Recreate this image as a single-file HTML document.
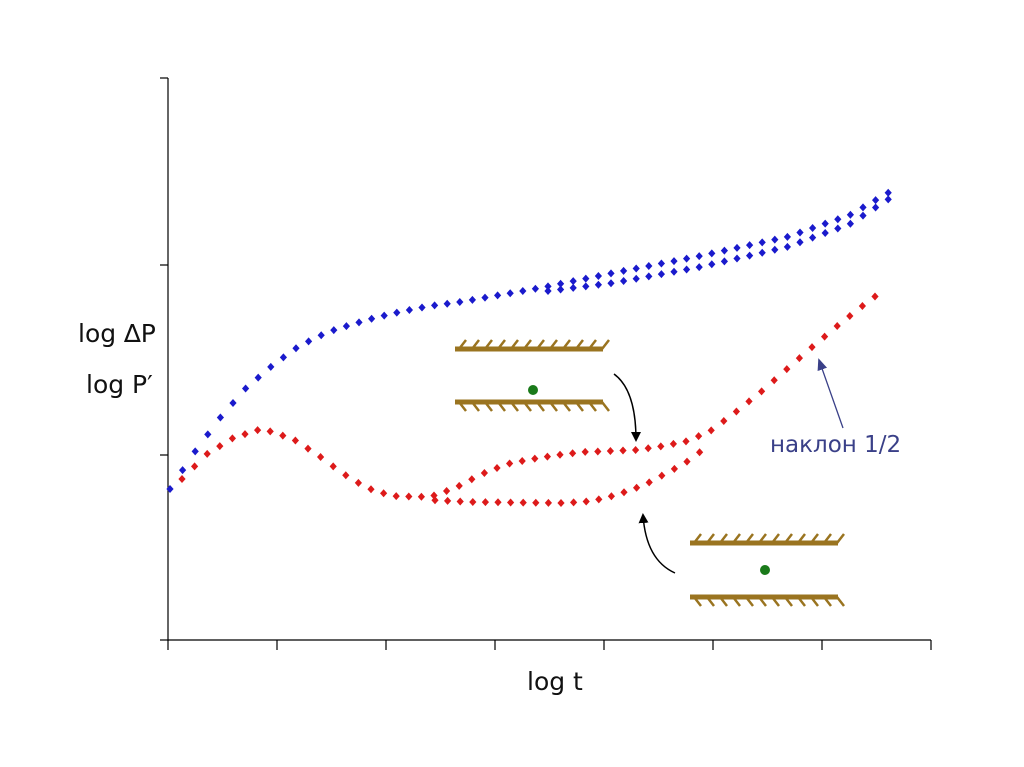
<!DOCTYPE html>
<html><head><meta charset="utf-8"><style>
html,body{margin:0;padding:0;background:#fff;width:1024px;height:767px;overflow:hidden}
svg text{font-family:"DejaVu Sans","Liberation Sans",sans-serif}
</style></head><body>
<svg id="s" width="1024" height="767" xmlns="http://www.w3.org/2000/svg">
<defs>
<marker id="ah" markerWidth="10" markerHeight="10" refX="8" refY="5" orient="auto" markerUnits="userSpaceOnUse"><path d="M0,0 L10,5 L0,10 z" fill="#000"/></marker>
<marker id="ab" markerWidth="12" markerHeight="10" refX="10" refY="5" orient="auto" markerUnits="userSpaceOnUse"><path d="M0,0 L12,5 L0,10 z" fill="#3a4088"/></marker>
</defs>
<g stroke="#000" stroke-width="1.2">
<line x1="168" y1="78" x2="168" y2="641"/>
<line x1="168" y1="640" x2="931" y2="640"/>
<line x1="160" y1="78" x2="168" y2="78"/>
<line x1="160" y1="265" x2="168" y2="265"/>
<line x1="160" y1="455" x2="168" y2="455"/>
<line x1="160" y1="640" x2="168" y2="640"/>
<line x1="168" y1="640" x2="168" y2="650"/>
<line x1="277" y1="640" x2="277" y2="650"/>
<line x1="386" y1="640" x2="386" y2="650"/>
<line x1="495" y1="640" x2="495" y2="650"/>
<line x1="604" y1="640" x2="604" y2="650"/>
<line x1="713" y1="640" x2="713" y2="650"/>
<line x1="822" y1="640" x2="822" y2="650"/>
<line x1="931" y1="640" x2="931" y2="650"/>
</g>
<text x="78" y="342" font-size="25" fill="#111">log ∆P</text>
<text x="86" y="393" font-size="25" fill="#111">log P′</text>
<text x="527" y="690" font-size="25" fill="#111">log t</text>
<text x="770" y="452" font-size="23" fill="#3a4088">наклон 1/2</text>
<line x1="843" y1="428" x2="819" y2="360" stroke="#3a4088" stroke-width="1.3" marker-end="url(#ab)"/>
<path d="M614,374 Q636,390 636,440" fill="none" stroke="#000" stroke-width="1.5" marker-end="url(#ah)"/>
<path d="M675,573 Q646,560 643,515" fill="none" stroke="#000" stroke-width="1.5" marker-end="url(#ah)"/>
<g id="pts"></g>
<g id="walls" stroke="#9a7420" fill="none"></g>
<circle cx="533" cy="390" r="5" fill="#1a7a1a"/>
<circle cx="765" cy="570" r="5" fill="#1a7a1a"/>
</svg>
<script>
var ns="http://www.w3.org/2000/svg",g=document.getElementById("pts"),w=document.getElementById("walls");
function interp(k,x){for(var i=0;i<k.length-1;i++){if(x>=k[i][0]&&x<=k[i+1][0]){var t=(x-k[i][0])/(k[i+1][0]-k[i][0]);return k[i][1]+t*(k[i+1][1]-k[i][1]);}}return k[k.length-1][1];}
function series(k,x0,x1,col){for(var x=x0;x<=x1+0.1;x+=12.6){var y=interp(k,x),p=document.createElementNS(ns,"path");p.setAttribute("d","M"+x+","+(y-4)+"L"+(x+3.6)+","+y+"L"+x+","+(y+4)+"L"+(x-3.6)+","+y+"Z");p.setAttribute("fill",col);g.appendChild(p);}}
var blue=[[170,489],[194,453],[220,418],[246,388],[273,365],[299,346],[328,332],[353,324],[378,317],[404,311],[430,306],[460,302],[500,295],[540,288]];
series(blue.concat([[613,273],[700,256],[787,237],[850,215],[898,187]]),170,898,"#1a1acc");
series([[540,292],[613,283],[700,267],[787,247],[850,224],[898,193]],548,898,"#1a1acc");
var red=[[182,479],[207,454],[233,438],[258,430],[269,431],[293,439],[318,455],[342,473],[367,488],[392,496],[430,497]];
series(red.concat([[455,488],[482,474],[507,464],[532,459],[558,455],[583,452],[610,451],[636,450],[663,446],[688,441],[712,430],[737,411],[762,391],[787,369],[811,348],[836,327],[861,307],[885,289]]),182,885,"#dd1a1a");
series([[430,500],[470,502],[560,503],[583,502],[596,500],[609,497],[622,493],[636,488],[650,482],[663,475],[676,468],[688,461],[700,452],[712,440]],435,700,"#dd1a1a");
function wall(x0,x1,y,up){var l=document.createElementNS(ns,"line");l.setAttribute("x1",x0);l.setAttribute("x2",x1);l.setAttribute("y1",y);l.setAttribute("y2",y);l.setAttribute("stroke-width","5");w.appendChild(l);
for(var x=x0+4;x<=x1;x+=13){var h=document.createElementNS(ns,"line");h.setAttribute("stroke-width","2.5");if(up){h.setAttribute("x1",x);h.setAttribute("y1",y);h.setAttribute("x2",x+7);h.setAttribute("y2",y-9);}else{h.setAttribute("x1",x);h.setAttribute("y1",y);h.setAttribute("x2",x+7);h.setAttribute("y2",y+9);}w.appendChild(h);}}
wall(455,603,349,true);wall(455,603,402,false);wall(690,838,543,true);wall(690,838,597,false);
</script>
</body></html>
